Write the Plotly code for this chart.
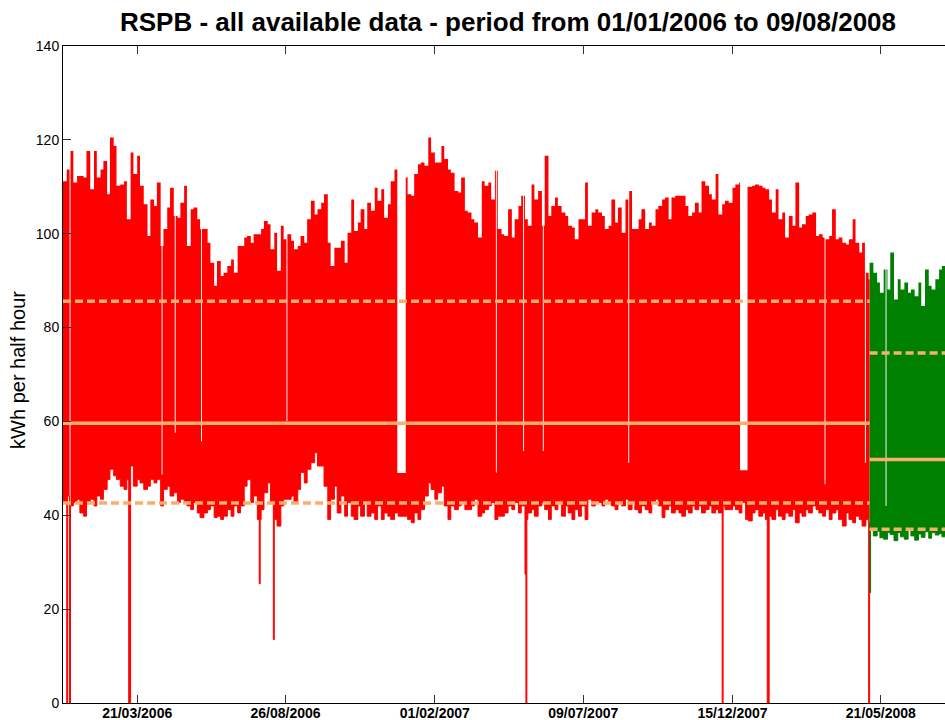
import pandas as pd
import plotly.graph_objects as go

# ---------------- data (kWh per half hour) ----------------
# envelope samples, evenly spaced over each period
RED_START, RED_END = "2006-01-01", "2008-05-08"
GREEN_START, GREEN_END = "2008-05-09", "2008-07-25"
DATA_END = "2008-08-09"

RED_UPPER = [
    111.2, 113.7, 117.6, 110.9, 112.3, 112.3, 112.0, 117.6, 109.5, 117.6,
    112.0, 113.7, 115.5, 108.4, 120.5, 118.7, 110.2, 110.5, 111.2, 103.1,
    117.3, 112.7, 116.6, 110.2, 106.3, 99.5, 107.3, 105.9, 110.9, 97.4,
    101.0, 105.6, 109.8, 103.8, 103.4, 106.6, 110.2, 97.4, 105.2, 105.6,
    103.1, 101.0, 101.0, 98.1, 93.8, 88.9, 94.2, 91.0, 91.7, 93.1,
    94.5, 91.7, 97.4,
    97.4, 99.2, 99.5, 98.1, 99.9, 99.9, 101.0, 102.7, 102.0, 96.7,
    100.2, 92.1, 101.7, 98.8, 99.9, 98.5, 96.7, 97.4, 99.5, 98.1,
    103.1, 107.0, 104.1, 105.2, 106.6, 108.4, 98.1, 93.1, 97.0, 97.0,
    98.5, 93.8, 100.2, 107.3, 100.6, 102.4, 105.2, 101.0, 106.6, 104.9,
    109.8, 107.0, 109.5, 103.4, 106.3, 111.2, 113.7, 112.0, 112.0, 112.0,
    108.4, 108.1, 112.7, 114.8,
    115.2, 114.5, 120.5, 117.3, 115.2, 115.2, 118.7, 115.9, 113.7, 113.0,
    109.1, 108.8, 112.0, 104.9, 104.5, 103.1, 102.4, 99.2, 111.2, 110.2,
    110.9, 107.3, 113.4, 101.0, 99.9, 99.5, 105.2, 99.2, 103.1, 105.9,
    108.1, 103.1, 101.7, 110.5, 107.3, 109.1, 101.7, 116.6, 103.8, 105.9,
    107.7, 105.9, 104.5, 103.8, 101.7, 101.3, 98.8, 103.1, 103.1, 110.9,
    101.7, 104.5, 105.2,
    104.5, 103.8, 101.0, 101.7, 107.3, 102.4, 105.6, 100.2, 107.3, 109.1,
    101.0, 101.0, 103.1, 105.2, 101.0, 102.4, 101.7, 105.2, 105.9, 107.3,
    107.7, 103.1, 107.7, 108.1, 108.1, 108.1, 105.9, 103.8, 104.5, 106.6,
    104.5, 111.2, 110.2, 108.4, 107.3, 112.7, 104.1, 106.3, 107.0, 106.6,
    109.8, 110.5, 110.9, 110.0, 110.0, 110.0, 110.2, 110.5, 110.2, 109.8,
    109.5, 107.3, 104.5,
    109.5, 103.1, 104.5, 99.2, 103.8, 101.7, 110.9, 101.3, 102.0, 103.8,
    104.1, 104.5, 99.5, 99.9, 99.2, 98.8, 99.5, 105.2, 98.8, 99.2,
    98.1, 97.7, 98.8, 103.1, 98.1, 96.0, 98.1, 91.7, 90.3,
]

RED_LOWER = [
    42.7, 44.1, 42.0, 42.7, 43.4, 40.5, 39.8, 42.7, 43.4, 42.0,
    44.1, 43.4, 45.5, 47.6, 49.8, 48.4, 47.6, 46.2, 45.5, 47.6,
    50.5, 46.2, 47.6, 46.9, 45.5, 46.2, 47.6, 46.9, 47.6, 42.0,
    45.5, 46.2, 44.1, 44.8, 42.7, 43.4, 42.7, 42.0, 41.2, 42.7,
    40.5, 39.5, 40.5, 41.2, 42.0, 39.5, 39.8, 39.1, 39.8, 41.2,
    39.8, 42.0, 40.5,
    42.0, 46.2, 47.6, 42.7, 44.1, 39.1, 41.2, 44.8, 46.9, 42.7,
    39.1, 37.7, 42.0, 43.4, 43.4, 44.1, 42.7, 45.5, 49.1, 46.9,
    49.8, 51.2, 53.3, 50.5, 50.5, 46.2, 39.1, 43.4, 46.2, 40.5,
    44.1, 39.8, 42.7, 39.8, 39.1, 42.0, 39.8, 42.7, 39.8, 40.5,
    39.1, 42.0, 39.1, 40.5, 39.8, 39.1, 40.5, 39.8, 39.8, 39.8,
    39.1, 38.4, 40.5, 39.1,
    41.2, 44.1, 46.9, 45.5, 43.4, 44.8, 46.2, 42.0, 39.1, 42.0,
    41.2, 42.0, 42.7, 41.2, 41.2, 42.0, 43.4, 39.8, 40.5, 41.2,
    42.0, 42.7, 39.1, 39.8, 39.8, 40.5, 42.0, 41.2, 42.7, 40.5,
    42.0, 39.1, 40.5, 41.2, 39.8, 42.0, 42.7, 41.2, 39.1, 42.0,
    41.2, 42.7, 39.8, 42.0, 40.5, 39.1, 41.2, 39.8, 42.0, 39.1,
    43.4, 42.0, 42.7,
    42.7, 42.0, 43.4, 42.7, 42.0, 41.2, 42.7, 42.0, 43.4, 41.2,
    42.7, 41.2, 40.5, 42.0, 41.2, 40.5, 42.7, 43.4, 42.0, 39.5,
    41.2, 42.0, 40.5, 41.2, 40.5, 39.8, 41.2, 40.5, 42.0, 41.2,
    42.0, 40.5, 41.2, 42.0, 40.5, 41.2, 40.5, 42.0, 41.2, 41.2,
    42.0, 41.2, 40.5, 42.7, 39.1, 38.8, 40.5, 41.2, 39.8, 40.5,
    39.1, 39.8, 39.1,
    41.2, 39.8, 39.1, 40.5, 39.8, 41.2, 38.4, 40.5, 39.8, 41.2,
    40.5, 42.0, 41.2, 40.5, 39.8, 41.2, 39.1, 40.5, 41.2, 39.1,
    37.7, 40.5, 39.1, 38.4, 39.8, 39.1, 37.7, 39.1, 38.4,
]

GREEN_UPPER = [
    93.8, 91.7, 89.6, 87.4, 92.4, 88.1, 96.0, 86.0, 90.3, 88.1, 89.6,
    87.4, 88.1, 86.7, 89.6, 84.6, 92.4, 88.9, 88.1, 90.3, 92.4, 93.1,
]
GREEN_LOWER = [
    37.0, 35.6, 36.6, 35.2, 34.9, 36.3, 35.9, 34.6, 36.3, 35.4, 34.9,
    36.8, 35.6, 34.7, 36.0, 35.3, 36.5, 35.1, 36.3, 35.8, 36.1, 35.4,
]

# single days with a low daily maximum (holidays)
HOLIDAY_DATES = ["2006-01-08", "2006-04-16", "2006-04-30", "2006-05-28", "2006-08-27",
                 "2007-04-07", "2007-05-06", "2007-05-27", "2007-08-26", "2008-03-22",
                 "2008-05-04", "2008-05-26"]
HOLIDAY_MAX = [33.0, 48.7, 57.6, 55.8, 60.1, 49.1, 53.7, 53.7, 51.2, 46.6, 51.2, 42.0]

# closures over Christmas
XMAS_FROM = ["2006-12-23", "2007-12-23"]
XMAS_TO = ["2006-12-31", "2007-12-30"]
XMAS_MAX = [49.0, 49.6]

# single days with a low daily minimum (meter drop-outs)
DIP_DATES = ["2006-01-05", "2006-01-08", "2006-03-12", "2006-03-13", "2006-07-29",
             "2006-08-13", "2007-05-08", "2007-05-09", "2007-12-04", "2008-01-21",
             "2008-01-22", "2008-05-08", "2008-05-09"]
DIP_MIN = [0.0, 0.0, 0.0, 0.0, 25.4, 13.5, 27.5, 0.0, 0.0, 0.0, 0.0, 0.0, 23.5]

# period statistics (mean and dashed bands)
RED_MEAN, RED_HIGH, RED_LOW = 59.6, 85.6, 42.6
GREEN_MEAN, GREEN_HIGH, GREEN_LOW = 51.9, 74.6, 37.0

TICK_DATES = ["2006-03-21", "2006-08-26", "2007-02-01", "2007-07-09", "2007-12-15", "2008-05-21"]
TICK_LABELS = ["21/03/2006", "26/08/2006", "01/02/2007", "09/07/2007", "15/12/2007", "21/05/2008"]
Y_TICKS = [0, 20, 40, 60, 80, 100, 120, 140]

TITLE = "RSPB - all available data - period from 01/01/2006 to 09/08/2008"
YLABEL = "kWh per half hour"

RED = "#FF0000"
GREEN = "#008000"
ORANGE = "#F6B06C"
FONT = "Liberation Sans, Arial, sans-serif"


def daily(values, start, end, stop):
    s = pd.Series(values, index=pd.date_range(start, end, periods=len(values)))
    idx = pd.date_range(start, stop, freq="D")
    return s.reindex(idx, method="ffill")


red_up = daily(RED_UPPER, RED_START, RED_END, "2008-05-09")
red_lo = daily(RED_LOWER, RED_START, RED_END, "2008-05-09")
grn_up = daily(GREEN_UPPER, GREEN_START, GREEN_END, DATA_END)
grn_lo = daily(GREEN_LOWER, GREEN_START, GREEN_END, DATA_END)
red_up.iloc[-1] = red_up.iloc[-2]
red_lo.iloc[-1] = red_lo.iloc[-2]

for d, v in zip(HOLIDAY_DATES, HOLIDAY_MAX):
    d = pd.Timestamp(d)
    for up, lo in ((red_up, red_lo), (grn_up, grn_lo)):
        if d in up.index and not (up is red_up and d == up.index[-1]):
            up[d] = v
            lo[d] = min(lo[d], v - 2)
for a, b, v in zip(XMAS_FROM, XMAS_TO, XMAS_MAX):
    red_up[a:b] = v
for d, v in zip(DIP_DATES, DIP_MIN):
    d = pd.Timestamp(d)
    if d == pd.Timestamp(GREEN_START):
        grn_lo[d] = v
    elif d in red_lo.index and d != red_lo.index[-1]:
        red_lo[d] = v

fig = go.Figure()
fig.add_trace(go.Scatter(x=red_lo.index, y=red_lo.values, mode="lines",
                         line=dict(color=RED, width=1, shape="hv"), hoverinfo="skip"))
fig.add_trace(go.Scatter(x=red_up.index, y=red_up.values, mode="lines", fill="tonexty",
                         fillcolor=RED, line=dict(color=RED, width=0, shape="hv"), hoverinfo="skip"))
fig.add_trace(go.Scatter(x=grn_lo.index, y=grn_lo.values, mode="lines",
                         line=dict(color=GREEN, width=1, shape="hv"), hoverinfo="skip"))
fig.add_trace(go.Scatter(x=grn_up.index, y=grn_up.values, mode="lines", fill="tonexty",
                         fillcolor=GREEN, line=dict(color=GREEN, width=0, shape="hv"), hoverinfo="skip"))

for (a, b), vals in (((RED_START, "2008-05-09"), (RED_HIGH, RED_MEAN, RED_LOW)),
                     ((GREEN_START, DATA_END), (GREEN_HIGH, GREEN_MEAN, GREEN_LOW))):
    for v, dash in zip(vals, ("8px,4px", "solid", "8px,4px")):
        fig.add_trace(go.Scatter(x=[a, b], y=[v, v], mode="lines",
                                 line=dict(color=ORANGE, width=3.5, dash=dash), hoverinfo="skip"))

fig.update_layout(
    width=945, height=720,
    margin=dict(l=63, r=0, t=46, b=17),
    plot_bgcolor="white", paper_bgcolor="white",
    showlegend=False,
    font=dict(family=FONT, color="black"),
    annotations=[
        dict(text="<b>%s</b>" % TITLE, xref="paper", yref="paper", x=0.5045, y=1.0365,
             xanchor="center", yanchor="middle", showarrow=False,
             font=dict(size=26, family=FONT, color="black")),
        dict(text=YLABEL, xref="paper", yref="paper", x=-0.051, y=0.507,
             xanchor="center", yanchor="middle", textangle=-90, showarrow=False,
             font=dict(size=20, family=FONT, color="black")),
    ],
)
fig.update_xaxes(
    type="date", range=["2006-01-01", "2008-07-28 07:00"],
    tickvals=TICK_DATES, ticktext=["<b>%s</b>" % t for t in TICK_LABELS],
    ticks="inside", ticklen=8, tickcolor="#333", tickwidth=1,
    showline=True, linecolor="black", linewidth=1, mirror="ticks",
    showgrid=False, zeroline=False, automargin=False, ticklabelstandoff=-3,
    tickfont=dict(size=14, family=FONT, color="black"),
)
fig.update_yaxes(
    range=[0, 140], tickvals=Y_TICKS,
    ticks="inside", ticklen=8, tickcolor="#333", tickwidth=1,
    showline=True, linecolor="black", linewidth=1, mirror=False,
    showgrid=False, zeroline=False, automargin=False,
    tickfont=dict(size=14, family=FONT, color="black"),
)

fig.write_html("out.html", config={"displayModeBar": False},
               post_script="document.body.style.margin='0';document.body.style.overflow='hidden';")
